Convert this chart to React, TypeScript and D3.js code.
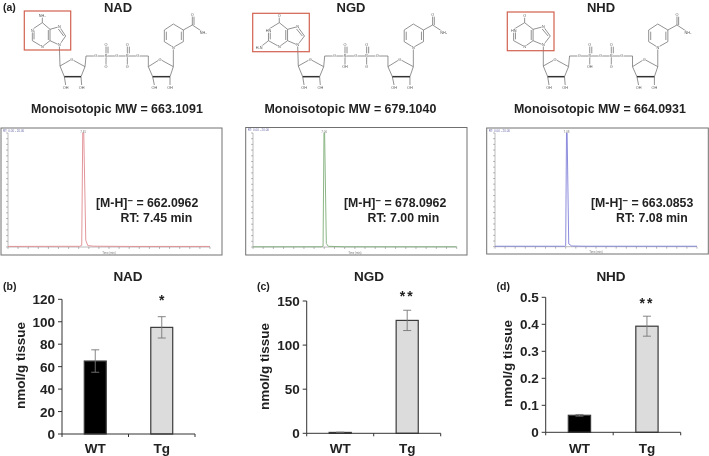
import React from "react";
import * as d3 from "d3";

// ---------- data ----------
const groups = ["WT", "Tg"];
const nadValues = [65, 95];
const nadErrors = [10, 9.5];
const ngdValues = [1, 128];
const ngdErrors = [0.3, 11.5];
const nhdValues = [0.063, 0.393];
const nhdErrors = [0.003, 0.037];
const nadTicks = [0, 20, 40, 60, 80, 100, 120];
const ngdTicks = [0, 50, 100, 150];
const nhdTicks = [0, 0.1, 0.2, 0.3, 0.4, 0.5];

const nadTrace: [number, number][] = [[0, 0.5], [5, 0.6], [7.1, 0.6], [7.3, 1.5], [7.4, 100], [7.5, 100], [7.7, 6], [7.9, 1.2], [8.5, 0.7], [12, 0.5], [20, 0.5]];
const ngdTrace: [number, number][] = [[0, 0.2], [6.7, 0.2], [6.88, 0.8], [6.97, 100], [7.03, 100], [7.2, 3], [7.4, 0.6], [9, 0.2], [20, 0.2]];
const nhdTrace: [number, number][] = [[0, 0.4], [6.9, 0.4], [7.0, 1], [7.08, 100], [7.14, 100], [7.3, 2.5], [7.6, 0.6], [9, 0.4], [20, 0.4]];
const rtTicks = d3.range(0, 21);
const pctTicks = d3.range(0, 101, 5);

// molecule drawing (units: 1/3 px)
type Seg = [number, number, number, number];
const baseBonds: Seg[] = [
  [127, 68, 127, 52],
  [127, 68, 150, 88], [145, 90, 145, 120], [150, 88, 150, 122], [150, 122, 127, 140], [127, 140, 97, 122], [97, 122, 97, 88], [102, 118, 102, 92], [97, 88, 127, 68],
  [150, 88, 178, 80], [178, 80, 197, 108], [191, 108, 175, 87], [197, 108, 178, 135], [178, 135, 150, 122],
];
const glycosidicBond: Seg = [178, 135, 180, 198];
const aminoBond: Seg = [97, 122, 76, 140];
const backboneBonds: Seg[] = [
  [180, 198, 215, 178], [215, 178, 255, 200], [255, 200, 243, 230], [193, 230, 180, 198], [193, 230, 197, 255], [243, 230, 245, 255],
  [255, 200, 258, 168], [258, 168, 445, 168], [318, 135, 318, 200], [382, 135, 382, 200], [324, 140, 324, 160], [388, 140, 388, 160],
  [445, 168, 445, 200], [445, 200, 480, 178], [480, 178, 520, 200], [520, 200, 510, 230], [458, 230, 445, 200], [458, 230, 463, 255], [510, 230, 510, 255],
  [520, 200, 520, 142], [520, 142, 550, 125], [550, 125, 550, 90], [544, 120, 544, 95], [550, 90, 520, 72], [520, 72, 493, 90], [493, 90, 493, 125], [499, 95, 499, 120], [493, 125, 520, 142],
  [550, 90, 577, 75], [577, 75, 577, 45], [582, 75, 582, 50], [577, 75, 607, 95],
];
const boldBonds: Seg[] = [[193, 230, 243, 230], [458, 230, 510, 230]];
const backboneLabels: [number, number, string][] = [
  [197, 262, "OH"], [245, 262, "OH"], [287, 168, "O"], [318, 168, "P"], [350, 168, "O"], [382, 168, "P"], [413, 168, "O"], [382, 135, "O"], [382, 200, "O"], [318, 135, "O"],
  [463, 262, "OH"], [510, 262, "OH"], [480, 178, "O"], [215, 178, "O"], [520, 142, "N"], [577, 45, "O"], [610, 97, "NH₂"],
];
const adenineLabels: [number, number, string][] = [[127, 47, "NH₂"], [97, 92, "N"], [127, 140, "N"], [178, 80, "N"], [178, 135, "N"]];
const guanineLabels: [number, number, string][] = [[127, 47, "O"], [97, 92, "HN"], [127, 140, "N"], [178, 80, "N"], [178, 135, "N"], [71, 143, "H₂N"]];
const hypoxLabels: [number, number, string][] = [[127, 47, "O"], [97, 92, "HN"], [127, 140, "N"], [178, 80, "N"], [178, 135, "N"]];

const FONT = "'Liberation Sans', Arial, sans-serif";

function Molecule({ x, baseX, baseK, amino, lowerLabel, baseLabels, box, k }: any) {
  const fx = (v: number) => x + (180 + (v - 180) * k) / 3;
  const bx = (v: number) => baseX + (178 + (v - 178) * baseK) / 3;
  const y = (v: number) => v / 3;
  return (
    <g>
      <g stroke="#6e6e6e" strokeWidth={0.75} fill="none">
        {backboneBonds.map((s, i) => <line key={i} x1={fx(s[0])} y1={y(s[1])} x2={fx(s[2])} y2={y(s[3])} />)}
        {baseBonds.map((s, i) => <line key={i} x1={bx(s[0])} y1={y(s[1])} x2={bx(s[2])} y2={y(s[3])} />)}
        <line x1={bx(glycosidicBond[0])} y1={y(glycosidicBond[1])} x2={fx(glycosidicBond[2])} y2={y(glycosidicBond[3])} />
        {amino && <line x1={bx(aminoBond[0])} y1={y(aminoBond[1])} x2={bx(aminoBond[2])} y2={y(aminoBond[3])} />}
      </g>
      <g stroke="#333" strokeWidth={1.5}>
        {boldBonds.map((s, i) => <line key={i} x1={fx(s[0])} y1={y(s[1])} x2={fx(s[2])} y2={y(s[3])} />)}
      </g>
      <g fontFamily={FONT} fontSize={3.8} fill="#555" textAnchor="middle" stroke="#fff" strokeWidth={1.2} style={{ paintOrder: "stroke" }}>
        {backboneLabels.map((l, i) => <text key={i} x={fx(l[0])} y={y(l[1]) + 1.3}>{l[2]}</text>)}
        <text x={fx(318)} y={y(200) + 1.3}>{lowerLabel}</text>
        {baseLabels.map((l: any, i: number) => <text key={i} x={bx(l[0])} y={y(l[1]) + 1.3}>{l[2]}</text>)}
      </g>
      <rect x={box[0]} y={box[1]} width={box[2]} height={box[3]} fill="none" stroke="#d2604f" strokeWidth={1.2} />
    </g>
  );
}

function Chrom({ box, x0, x1, yBase, yTop, trace, color, rtLabel }: any) {
  const sx = d3.scaleLinear().domain([0, 20]).range([x0, x1]);
  const sy = d3.scaleLinear().domain([0, 100]).range([yBase, yTop]);
  const line = d3.line<[number, number]>().x(d => sx(d[0])).y(d => sy(d[1]));
  return (
    <g>
      <rect x={box[0]} y={box[1]} width={box[2]} height={box[3]} fill="#fff" stroke="#707070" strokeWidth={1} />
      <g stroke="#777" strokeWidth={0.5}>
        <line x1={x0} x2={x0} y1={yTop} y2={yBase} />
        <line x1={x0} x2={x1} y1={yBase} y2={yBase} />
        {pctTicks.map(t => <line key={t} x1={x0 - 2} x2={x0} y1={sy(t)} y2={sy(t)} />)}
        {rtTicks.map(t => <line key={t} x1={sx(t)} x2={sx(t)} y1={yBase} y2={yBase + 2} />)}
      </g>
      <text x={box[0] + 2} y={box[1] + 3.5} fontFamily={FONT} fontSize={3} fill="#6a6aa8">RT: 0.00 - 20.00</text>
      <path d={line(trace) as string} fill="none" stroke={color} strokeWidth={0.9} />
      <text x={sx(rtLabel)} y={yTop - 0.5} fontFamily={FONT} fontSize={3} fill="#777" textAnchor="middle">{rtLabel.toFixed(2)}</text>
      <text x={(x0 + x1) / 2} y={yBase + 6.5} fontFamily={FONT} fontSize={2.8} fill="#777" textAnchor="middle">Time (min)</text>
    </g>
  );
}

function PeakText({ ion, rt, ionX, rtX }: any) {
  return (
    <g fontFamily={FONT} fontWeight="bold" fontSize={12.3} fill="#222">
      <text x={ionX} y={207}>[M-H]<tspan dy={-3} fontSize={9.5}>−</tspan><tspan dy={3}> = {ion}</tspan></text>
      <text x={rtX} y={222}>RT: {rt} min</text>
    </g>
  );
}

function Bars({ x0, x1, yBase, yTop, max, ticks, values, errors, title, titleX, tag, tagX, stars, starY, fmt, yLabelX, yLabelY }: any) {
  const sx = d3.scaleBand<string>().domain(groups).range([x0, x1]).paddingInner(0.67).paddingOuter(0.335);
  const sy = d3.scaleLinear().domain([0, max]).range([yBase, yTop]);
  const mid = (x0 + x1) / 2;
  return (
    <g fontFamily={FONT} fill="#222">
      <text x={titleX} y={281} fontSize={13.5} fontWeight="bold" textAnchor="middle">{title}</text>
      <text x={tagX} y={289.5} fontSize={10.5} fontWeight="bold">{tag}</text>
      {values.map((v: number, i: number) => {
        const bx = sx(groups[i]) as number;
        const w = sx.bandwidth();
        const cx = bx + w / 2;
        return (
          <g key={i}>
            <rect x={bx} y={sy(v)} width={w} height={yBase - sy(v)} fill={i === 0 ? "#000" : "#dcdcdc"} stroke="#3a3a3a" strokeWidth={1.2} />
            <g stroke="#777" strokeWidth={0.9}>
              <line x1={cx} x2={cx} y1={sy(v + errors[i])} y2={sy(v - errors[i])} />
              <line x1={cx - 4} x2={cx + 4} y1={sy(v + errors[i])} y2={sy(v + errors[i])} />
              <line x1={cx - 4} x2={cx + 4} y1={sy(v - errors[i])} y2={sy(v - errors[i])} />
            </g>
            <text x={cx} y={452.5} fontSize={13.5} fontWeight="bold" textAnchor="middle">{groups[i]}</text>
          </g>
        );
      })}
      <g stroke="#333" strokeWidth={1}>
        <line x1={x0} x2={x0} y1={yTop} y2={yBase} />
        <line x1={x0} x2={x1} y1={yBase} y2={yBase} />
        {ticks.map((t: number) => <line key={t} x1={x0 - 4} x2={x0} y1={sy(t)} y2={sy(t)} />)}
        {[x0, mid, x1].map((t: number) => <line key={t} x1={t} x2={t} y1={yBase} y2={yBase + 3} />)}
      </g>
      {ticks.map((t: number) => <text key={t} x={x0 - 7} y={sy(t) + 5} fontSize={13.5} fontWeight="bold" textAnchor="end">{fmt(t)}</text>)}
      <text transform={`translate(${yLabelX},${yLabelY}) rotate(-90)`} fontSize={13.5} fontWeight="bold" textAnchor="middle">nmol/g tissue</text>
      <text x={(sx("Tg") as number) + sx.bandwidth() / 2} y={starY} fontSize={14} fontWeight="bold" textAnchor="middle" letterSpacing={stars.length > 1 ? 2 : 0}>{stars}</text>
    </g>
  );
}

export default function App() {
  return (
    <svg width={709} height={456} style={{ position: "absolute", left: 0, top: 0, display: "block", background: "#fff" }}>
      <defs>
        <filter id="soft" x="-2%" y="-2%" width="104%" height="104%"><feGaussianBlur stdDeviation={0.4} /></filter>
      </defs>
      <g filter="url(#soft)">
        <Molecule x={0} baseX={0} baseK={1} k={1} lowerLabel="O" baseLabels={adenineLabels} box={[24.3, 11, 46.4, 39]} />
        <Molecule x={238.3} baseX={238.3} baseK={1.08} k={1.015} amino lowerLabel="OH" baseLabels={guanineLabels} box={[252.7, 13.3, 56.6, 38.4]} />
        <Molecule x={483.3} baseX={484} baseK={1.1} k={1.01} lowerLabel="OH" baseLabels={hypoxLabels} box={[507.3, 12, 46.7, 38.7]} />
        <Chrom box={[1, 128, 221, 127]} x0={8} x1={210} yBase={247} yTop={133} trace={nadTrace} color="#e08a90" rtLabel={7.45} />
        <Chrom box={[245.7, 127.5, 221.3, 127.5]} x0={253} x1={456.7} yBase={247} yTop={133} trace={ngdTrace} color="#7fae78" rtLabel={7.0} />
        <Chrom box={[486.7, 128, 221.6, 126]} x0={495} x1={697} yBase={246.7} yTop={133} trace={nhdTrace} color="#7f7fd8" rtLabel={7.08} />
      </g>
      <g filter="url(#soft)">
        <PeakText ion="662.0962" rt="7.45" ionX={96} rtX={120.5} />
        <PeakText ion="678.0962" rt="7.00" ionX={344} rtX={367.5} />
        <PeakText ion="663.0853" rt="7.08" ionX={591} rtX={616} />
        <g fontFamily={FONT} fontWeight="bold" fill="#222">
          <text x={3} y={10.5} fontSize={10.5}>(a)</text>
          <text x={118} y={12} fontSize={13} textAnchor="middle">NAD</text>
          <text x={351} y={12} fontSize={13} textAnchor="middle">NGD</text>
          <text x={601} y={12} fontSize={13} textAnchor="middle">NHD</text>
          <text x={31} y={113} fontSize={12.4}>Monoisotopic MW = 663.1091</text>
          <text x={264.5} y={113} fontSize={12.4}>Monoisotopic MW = 679.1040</text>
          <text x={514} y={113} fontSize={12.4}>Monoisotopic MW = 664.0931</text>
        </g>
        <Bars x0={62} x1={195} yBase={434} yTop={299.3} max={120} ticks={nadTicks} values={nadValues} errors={nadErrors} title="NAD" titleX={128} tag="(b)" tagX={3} stars="*" starY={305} fmt={(t: number) => String(t)} yLabelX={25} yLabelY={365.5} />
        <Bars x0={306.7} x1={440.7} yBase={433.3} yTop={301} max={150} ticks={ngdTicks} values={ngdValues} errors={ngdErrors} title="NGD" titleX={369} tag="(c)" tagX={257} stars="**" starY={301} fmt={(t: number) => String(t)} yLabelX={269} yLabelY={366.5} />
        <Bars x0={545.7} x1={680.7} yBase={432.3} yTop={297.3} max={0.5} ticks={nhdTicks} values={nhdValues} errors={nhdErrors} title="NHD" titleX={611} tag="(d)" tagX={496.5} stars="**" starY={308} fmt={(t: number) => (t === 0 ? "0" : t.toFixed(1))} yLabelX={512} yLabelY={363.5} />
      </g>
    </svg>
  );
}
